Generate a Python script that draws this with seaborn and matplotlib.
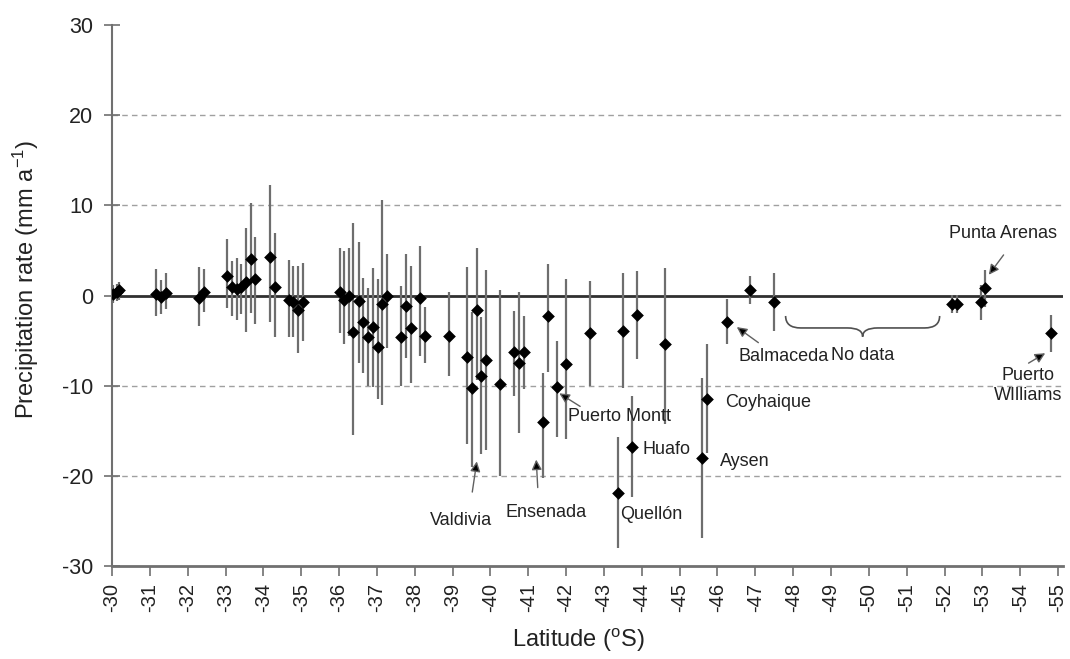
import numpy as np
import pandas as pd
import matplotlib
matplotlib.use("Agg")
import matplotlib.pyplot as plt
from matplotlib.path import Path
from matplotlib.patches import PathPatch
import seaborn as sns

# ---------------- data ----------------
latitude = [-30.03, -30.12, -30.19, -31.17, -31.30, -31.43, -32.29, -32.42,
            -33.04, -33.17, -33.29, -33.42, -33.54, -33.67, -33.79, -34.17,
            -34.30, -34.68, -34.79, -34.92, -35.05, -36.02, -36.14, -36.26,
            -36.38, -36.52, -36.64, -36.77, -36.89, -37.02, -37.14, -37.28,
            -37.64, -37.77, -37.90, -38.15, -38.28, -38.90, -39.39, -39.52,
            -39.64, -39.76, -39.89, -40.26, -40.63, -40.75, -40.88, -41.40,
            -41.51, -41.76, -42.00, -42.63, -43.37, -43.49, -43.75, -43.86,
            -44.60, -45.60, -45.73, -46.25, -46.86, -47.49, -52.21, -52.32,
            -52.95, -53.08, -54.81]
rate = [0.17, 0.42, 0.61, 0.17, -0.13, 0.31, -0.31, 0.42,
        2.16, 0.90, 0.68, 0.90, 1.53, 4.00, 1.83, 4.30,
        0.98, -0.50, -0.69, -1.60, -0.72, 0.40, -0.50, -0.10,
        -4.00, -0.61, -2.90, -4.57, -3.53, -5.67, -0.90, -0.05,
        -4.64, -1.13, -3.64, -0.24, -4.49, -4.49, -6.79, -10.30,
        -1.60, -8.90, -7.15, -9.85, -6.23, -7.52, -6.23, -14.00,
        -2.24, -10.10, -7.60, -4.20, -21.90, -3.94, -16.80, -2.20,
        -5.38, -18.05, -11.50, -2.90, 0.61, -0.69, -0.98, -0.98,
        -0.69, 0.80, -4.12]
bar_low = [-0.87, -0.60, -0.50, -2.24, -2.05, -1.50, -3.38, -1.87,
           -1.35, -2.24, -2.70, -2.05, -4.08, -1.98, -3.16, -2.97,
           -4.64, -4.57, -4.57, -6.40, -5.05, -4.12, -5.40, -4.50,
           -15.50, -7.45, -8.56, -10.00, -10.20, -11.50, -12.10, -5.80,
           -10.00, -6.97, -9.67, -6.71, -7.45, -8.93, -16.50, -19.00,
           -9.37, -17.60, -17.10, -20.00, -11.10, -15.20, -10.40, -20.20,
           -8.45, -15.70, -15.90, -10.00, -28.00, -10.30, -22.30, -7.08,
           -14.20, -26.90, -17.50, -5.40, -0.94, -3.94, -1.98, -1.98,
           -2.72, -1.24, -6.23]
bar_high = [1.16, 1.30, 1.53, 2.94, 1.72, 2.53, 3.20, 2.94,
            6.23, 3.83, 4.20, 3.46, 7.45, 10.30, 6.45, 12.30,
            6.97, 3.94, 3.27, 3.27, 3.57, 5.23, 4.97, 5.23,
            8.00, 5.93, 1.98, 0.80, 3.00, 1.80, 10.60, 4.56,
            1.09, 4.64, 3.27, 5.49, -1.24, 0.35, 3.20, -1.87,
            5.23, -2.35, 2.83, 0.61, -1.72, 0.42, -2.27, -8.56,
            3.46, -5.00, 1.80, 1.60, -15.70, 2.46, -11.20, 2.72,
            3.00, -9.10, -5.40, -0.42, 2.16, 2.53, 0.05, 0.05,
            1.16, 2.83, -2.16]

x_ticks = [-30, -31, -32, -33, -34, -35, -36, -37, -38, -39, -40, -41, -42,
           -43, -44, -45, -46, -47, -48, -49, -50, -51, -52, -53, -54, -55]
x_tick_labels = ["-30", "-31", "-32", "-33", "-34", "-35", "-36", "-37", "-38",
                 "-39", "-40", "-41", "-42", "-43", "-44", "-45", "-46", "-47",
                 "-48", "-49", "-50", "-51", "-52", "-53", "-54", "-55"]
y_ticks = [-30, -20, -10, 0, 10, 20, 30]
y_tick_labels = ["-30", "-20", "-10", "0", "10", "20", "30"]

# station labels: text, text position, alignment, arrow tail, arrow tip (None = no arrow)
stations = [
    ("Valdivia", (-39.23, -24.9), "center", (-39.52, -21.8), (-39.64, -18.4)),
    ("Ensenada", (-41.46, -24.1), "center", (-41.25, -21.3), (-41.21, -18.2)),
    ("Puerto Montt", (-42.04, -13.4), "left", (-42.37, -12.3), (-41.82, -10.85)),
    ("Huafo", (-44.01, -17.1), "left", None, None),
    ("Quellón", (-43.43, -24.3), "left", None, None),
    ("Aysen", (-46.06, -18.4), "left", None, None),
    ("Coyhaique", (-46.19, -11.9), "left", None, None),
    ("Balmaceda", (-46.56, -6.8), "left", (-47.08, -5.23), (-46.51, -3.5)),
    ("Punta Arenas", (-53.55, 6.9), "center", (-53.56, 4.5), (-53.17, 2.3)),
    ("Puerto\nWIlliams", (-54.21, -10.0), "center", (-54.22, -7.5), (-54.66, -6.4)),
]

# ---------------- style ----------------
sns.set_theme(style="white")
plt.rcParams['font.family'] = ['Liberation Sans', 'DejaVu Sans']
plt.rcParams['mathtext.fontset'] = 'custom'
plt.rcParams['mathtext.rm'] = 'Liberation Sans'
plt.rcParams['mathtext.it'] = 'Liberation Sans:italic'
plt.rcParams['axes.unicode_minus'] = False

fig = plt.figure(figsize=(10.7, 6.59), dpi=100)
ax = fig.add_axes([112 / 1070, 1 - 566 / 659, (1063 - 112) / 1070, (566 - 25) / 659])

df = pd.DataFrame({"lat": latitude, "rate": rate, "lo": bar_low, "hi": bar_high})

# grid and zero line
for yv in [-20, -10, 10, 20]:
    ax.axhline(yv, color="#a0a0a0", lw=1.0, ls=(0, (4, 3)), zorder=0)
ax.axhline(0, color="#303030", lw=2.0, zorder=1)

# error bars
ax.vlines(df["lat"], df["lo"], df["hi"], color="#6e6e6e", lw=1.6, zorder=2)

# points
sns.scatterplot(data=df, x="lat", y="rate", marker="D", s=42, color="black",
                edgecolor="black", linewidth=0, ax=ax, zorder=3, legend=False)

ax.set_xlim(-30, -55.13)
ax.set_ylim(-30, 30)
ax.set_xticks(x_ticks)
ax.set_xticklabels(x_tick_labels, rotation=90, fontsize=14.5, color="#222222")
ax.set_yticks(y_ticks)
ax.set_yticklabels(y_tick_labels, fontsize=15.5, color="#222222")

ax.tick_params(axis="y", direction="inout", length=11, width=1.2, color="#707070", pad=8, left=True)
ax.tick_params(axis="x", direction="out", length=7, width=1.2, color="#707070", pad=5, bottom=True)

for side in ["top", "right"]:
    ax.spines[side].set_visible(False)
ax.spines["left"].set_color("#707070")
ax.spines["left"].set_linewidth(1.5)
ax.spines["bottom"].set_color("#707070")
ax.spines["bottom"].set_linewidth(2.0)

ax.set_xlabel(r"Latitude ($^{\mathregular{o}}$S)", fontsize=17, color="#222222")
ax.set_ylabel(r"Precipitation rate (mm a$^{\mathregular{-1}}$)", fontsize=17, color="#222222")
ax.xaxis.set_label_coords(0.49, -0.112)
ax.yaxis.set_label_coords(-0.075, 0.53)

# station annotations
for name, pos, ha, tail, tip in stations:
    ax.text(pos[0], pos[1], name, ha=ha, va="center", fontsize=13,
            color="#222222", linespacing=1.25, zorder=4)
    if tail is not None:
        ax.annotate("", xy=tip, xytext=tail,
                    arrowprops=dict(arrowstyle="-|>", color="#606060", fc="black",
                                    ec="#606060", lw=1.0, mutation_scale=15,
                                    shrinkA=0, shrinkB=0),
                    zorder=4)

# "No data" brace
bx0, bx1 = -47.8, -51.87
btop, bmid, btip = -2.27, -3.6, -4.57
bxm = (bx0 + bx1) / 2
d = -0.4
verts = [(bx0, btop), (bx0, bmid), (bx0 + d, bmid),
         (bxm - d, bmid),
         (bxm, bmid), (bxm, btip),
         (bxm, bmid), (bxm + d, bmid),
         (bx1 - d, bmid),
         (bx1, bmid), (bx1, btop)]
codes = [Path.MOVETO, Path.CURVE3, Path.CURVE3,
         Path.LINETO,
         Path.CURVE3, Path.CURVE3,
         Path.CURVE3, Path.CURVE3,
         Path.LINETO,
         Path.CURVE3, Path.CURVE3]
ax.add_patch(PathPatch(Path(verts, codes), fill=False, ec="#505050", lw=1.2, zorder=4))
ax.text(bxm, -6.7, "No data", ha="center", va="center", fontsize=13, color="#222222")

fig.savefig("out.png", dpi=100)
